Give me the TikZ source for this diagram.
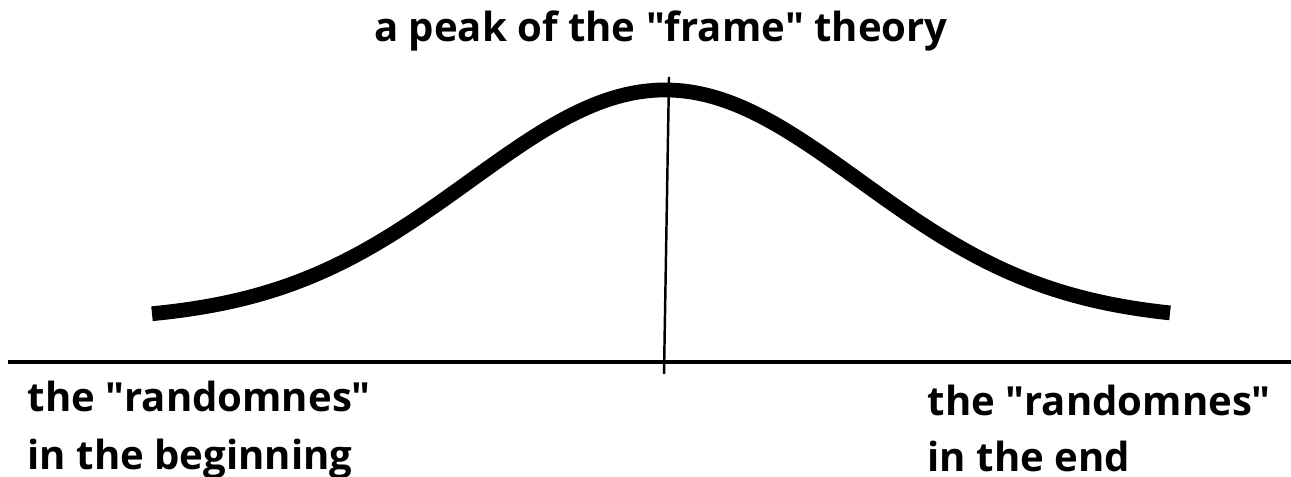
\documentclass[tikz,border=0pt]{standalone}
\usepackage{fontspec}
\setmainfont{Open Sans}
\usepackage{tikz}
\usetikzlibrary{positioning}

\tikzset{
  lbl/.style={font=\bfseries\fontsize{11.4}{14}\selectfont, inner sep=0pt},
  bell/.style={line width=4.2pt},
  axis/.style={line width=0.9pt},
}

\begin{document}
\begin{tikzpicture}[x=0.01cm, y=-0.01cm]
  \useasboundingbox (0,0) rectangle (1291,477);

  % Title
  \node[lbl, anchor=base] (title) at (661,42) {a peak of the \textquotedbl frame\textquotedbl{} theory};

  % Axis and peak marker
  \coordinate (axisL) at (8,362);
  \coordinate (axisR) at (1291,362);
  \draw[axis] (axisL) -- (axisR);
  \coordinate (peaktop) at (669,77);
  \coordinate (peakfoot) at (664,374);
  \draw[line width=0.7pt] (peaktop) -- (peakfoot);

  % Bell curve
  \draw[bell] plot[domain=152:1170, samples=120, smooth]
    (\x, {321 - 231*exp(-0.5*((\x-665)/195)^2)});

  % Labels
  \node[lbl, anchor=base west] (begA) at (27,412) {the \textquotedbl randomnes\textquotedbl};
  \node[lbl, anchor=base west] (begB) at (27,470) {in the beginning};
  \node[lbl, anchor=base west] (endA) at (927,416) {the \textquotedbl randomnes\textquotedbl};
  \node[lbl, anchor=base west] (endB) at (927,472) {in the end};
\end{tikzpicture}
\end{document}
